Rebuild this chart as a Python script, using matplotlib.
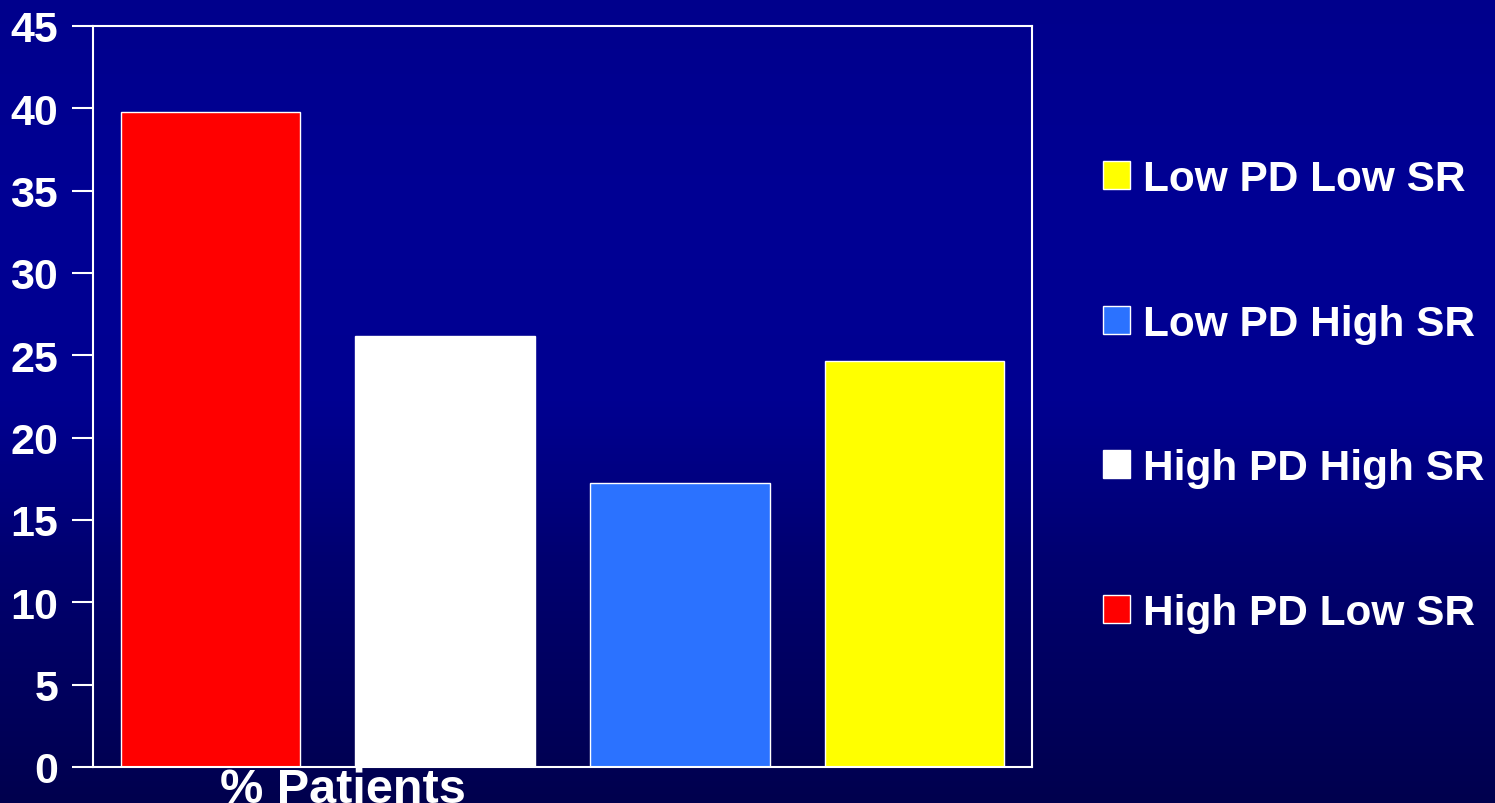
import numpy as np
import matplotlib
matplotlib.use("Agg")
import matplotlib.pyplot as plt
from matplotlib.colors import LinearSegmentedColormap

categories = ["High PD Low SR", "High PD High SR", "Low PD High SR", "Low PD Low SR"]
values = [39.8, 26.2, 17.25, 24.65]
colors = ["#ff0000", "#ffffff", "#2b72ff", "#ffff00"]
yticks = [0, 5, 10, 15, 20, 25, 30, 35, 40, 45]
xlabel = "% Patients"

plt.rcParams['font.family'] = ['Liberation Sans', 'DejaVu Sans']
plt.rcParams['font.weight'] = 'bold'

W, H, DPI = 1495, 804, 100
fig = plt.figure(figsize=(W / DPI, H / DPI), dpi=DPI)

# background gradient (bottom -> top)
bg = fig.add_axes([0, 0, 1, 1], zorder=-10)
cmap = LinearSegmentedColormap.from_list(
    "bg", [(0.0, (0, 0, 78 / 255)), (0.3, (0, 0, 112 / 255)),
           (0.5, (0, 0, 145 / 255)), (0.75, (0, 0, 148 / 255)), (1.0, (0, 0, 140 / 255))])
grad = np.linspace(0, 1, 256).reshape(-1, 1)
bg.imshow(grad, cmap=cmap, aspect='auto', origin='lower', extent=[0, 1, 0, 1])
bg.set_axis_off()

ax = fig.add_axes([93 / W, 1 - 768 / H, 939 / W, 741 / H])
ax.set_facecolor('none')
x = np.arange(len(categories))
bars = ax.bar(x, values, width=0.765, color=colors, edgecolor='white', linewidth=1.0)
ax.set_xlim(-0.5, len(categories) - 0.5)
ax.set_ylim(0, 45)
ax.set_yticks(yticks)
ax.set_xticks([])
for s in ax.spines.values():
    s.set_color('white')
    s.set_linewidth(1.5)
ax.tick_params(axis='y', colors='white', length=15, width=1.5, pad=10, labelsize=31)
for lab in ax.get_yticklabels():
    lab.set_fontweight('bold')
ax.set_xlabel(xlabel, color='white', fontsize=35, fontweight='bold')
ax.xaxis.set_label_coords((343 - 93) / 939, 0.0, transform=ax.transAxes)
ax.xaxis.label.set_va('top')

handles = list(bars)[::-1]
labels = categories[::-1]
leg = fig.legend(handles, labels, loc='center left', bbox_to_anchor=(1103 / W, 1 - 397 / H),
                 frameon=False, borderpad=0, borderaxespad=0,
                 handlelength=0.64, handleheight=0.64, handletextpad=0.3,
                 labelspacing=2.47, prop={'weight': 'bold', 'size': 30.5})
for t in leg.get_texts():
    t.set_color('white')

fig.savefig("out.png", dpi=DPI)
